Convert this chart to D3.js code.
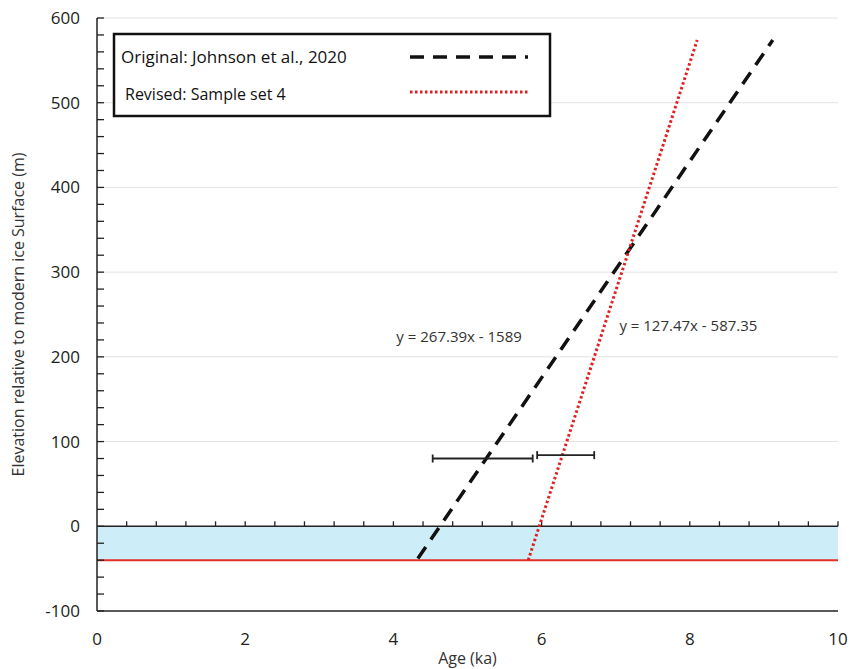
<!DOCTYPE html>
<html><head><meta charset="utf-8">
<script src="https://cdn.jsdelivr.net/npm/d3@7"></script>
<style>body{margin:0;background:#fff}text{font-family:"Open Sans",Arial,sans-serif}</style>
</head><body><svg id="c" width="851" height="669"></svg>
<script>
const xTicks=[0,2,4,6,8,10];
const yTicks=[-100,0,100,200,300,400,500,600];
const originalLine=[[4.33,-38],[9.12,574]];
const revisedLine=[[5.82,-40],[8.10,574]];
const errorBars=[{x0:4.53,x1:5.88,y:80},{x0:5.94,x1:6.71,y:84}];
const iceBand=[0,-40];
const equations=[{t:"y = 267.39x - 1589",x:4.04,y:218},{t:"y = 127.47x - 587.35",x:7.05,y:230}];
const legendItems=["Original: Johnson et al., 2020","Revised: Sample set 4"];

const svg=d3.select("#c");
const x=d3.scaleLinear().domain([0,10]).range([97,838]);
const y=d3.scaleLinear().domain([-100,600]).range([611,18]);

svg.selectAll(".g").data(yTicks.filter(d=>d!==-100&&d!==0)).enter().append("line")
 .attr("x1",x(0)).attr("x2",x(10)).attr("y1",d=>y(d)).attr("y2",d=>y(d)).attr("stroke","#e3e3e3");
svg.append("rect").attr("x",x(0)).attr("width",x(10)-x(0)).attr("y",y(iceBand[0])).attr("height",y(iceBand[1])-y(iceBand[0])).attr("fill","#cdeef9");
svg.append("line").attr("x1",x(0)).attr("x2",x(10)).attr("y1",y(iceBand[1])).attr("y2",y(iceBand[1])).attr("stroke","#e0302a").attr("stroke-width",2);
svg.append("line").attr("x1",x(0)).attr("x2",x(10)).attr("y1",y(0)).attr("y2",y(0)).attr("stroke","#222").attr("stroke-width",1.5);
svg.selectAll(".zt").data(d3.range(0.4,10.01,0.4)).enter().append("line")
 .attr("x1",d=>x(d)).attr("x2",d=>x(d)).attr("y1",y(0)).attr("y2",y(0)-5).attr("stroke","#222").attr("stroke-width",1.3);
svg.append("line").attr("x1",x(0)).attr("x2",x(10)).attr("y1",y(-100)).attr("y2",y(-100)).attr("stroke","#222").attr("stroke-width",1.5);
svg.append("line").attr("x1",x(0)).attr("x2",x(0)).attr("y1",y(-100)).attr("y2",y(600)).attr("stroke","#222").attr("stroke-width",1.5);
svg.selectAll(".yt").data(d3.range(-100,600.1,20)).enter().append("line")
 .attr("x1",x(0)).attr("x2",x(0)+7).attr("y1",d=>y(d)).attr("y2",d=>y(d)).attr("stroke","#222").attr("stroke-width",1.3);
svg.selectAll(".yl").data(yTicks).enter().append("text").attr("x",x(0)-17).attr("y",d=>y(d)+6)
 .attr("text-anchor","end").attr("font-size",17).attr("fill","#222").text(d=>d);
svg.selectAll(".xl").data(xTicks).enter().append("text").attr("x",d=>x(d)).attr("y",645)
 .attr("text-anchor","middle").attr("font-size",17).attr("fill","#222").text(d=>d);
svg.append("text").attr("x",x(5)).attr("y",664).attr("text-anchor","middle").attr("font-size",16).attr("fill","#333").text("Age (ka)");
svg.append("text").attr("transform",`translate(24,${y(250)}) rotate(-90)`).attr("text-anchor","middle").attr("font-size",16).attr("fill","#333").text("Elevation relative to modern ice Surface (m)");

const line=d3.line().x(d=>x(d[0])).y(d=>y(d[1]));
svg.append("path").attr("d",line(originalLine)).attr("stroke","#111").attr("stroke-width",3.5).attr("stroke-dasharray","14,9").attr("fill","none");
svg.append("path").attr("d",line(revisedLine)).attr("stroke","#e01f1f").attr("stroke-width",3).attr("stroke-dasharray","2.5,2.5").attr("fill","none");

errorBars.forEach(e=>{
 const g=svg.append("g").attr("stroke","#222").attr("stroke-width",1.8);
 g.append("line").attr("x1",x(e.x0)).attr("x2",x(e.x1)).attr("y1",y(e.y)).attr("y2",y(e.y));
 [e.x0,e.x1].forEach(v=>g.append("line").attr("x1",x(v)).attr("x2",x(v)).attr("y1",y(e.y)-4).attr("y2",y(e.y)+4));
});
equations.forEach(e=>svg.append("text").attr("x",x(e.x)).attr("y",y(e.y)).attr("font-size",15).attr("fill","#333").text(e.t));

svg.append("rect").attr("x",114).attr("y",34).attr("width",436).attr("height",82).attr("fill","#fff").attr("stroke","#111").attr("stroke-width",2.5);
svg.append("text").attr("x",121).attr("y",63).attr("font-size",17).attr("fill","#111").text(legendItems[0]);
svg.append("text").attr("x",125).attr("y",100).attr("font-size",16).attr("fill","#111").text(legendItems[1]);
svg.append("line").attr("x1",410).attr("x2",528).attr("y1",57).attr("y2",57).attr("stroke","#111").attr("stroke-width",3.5).attr("stroke-dasharray","14,9");
svg.append("line").attr("x1",410).attr("x2",528).attr("y1",92).attr("y2",92).attr("stroke","#e01f1f").attr("stroke-width",3).attr("stroke-dasharray","2.5,2.5");
</script></body></html>
